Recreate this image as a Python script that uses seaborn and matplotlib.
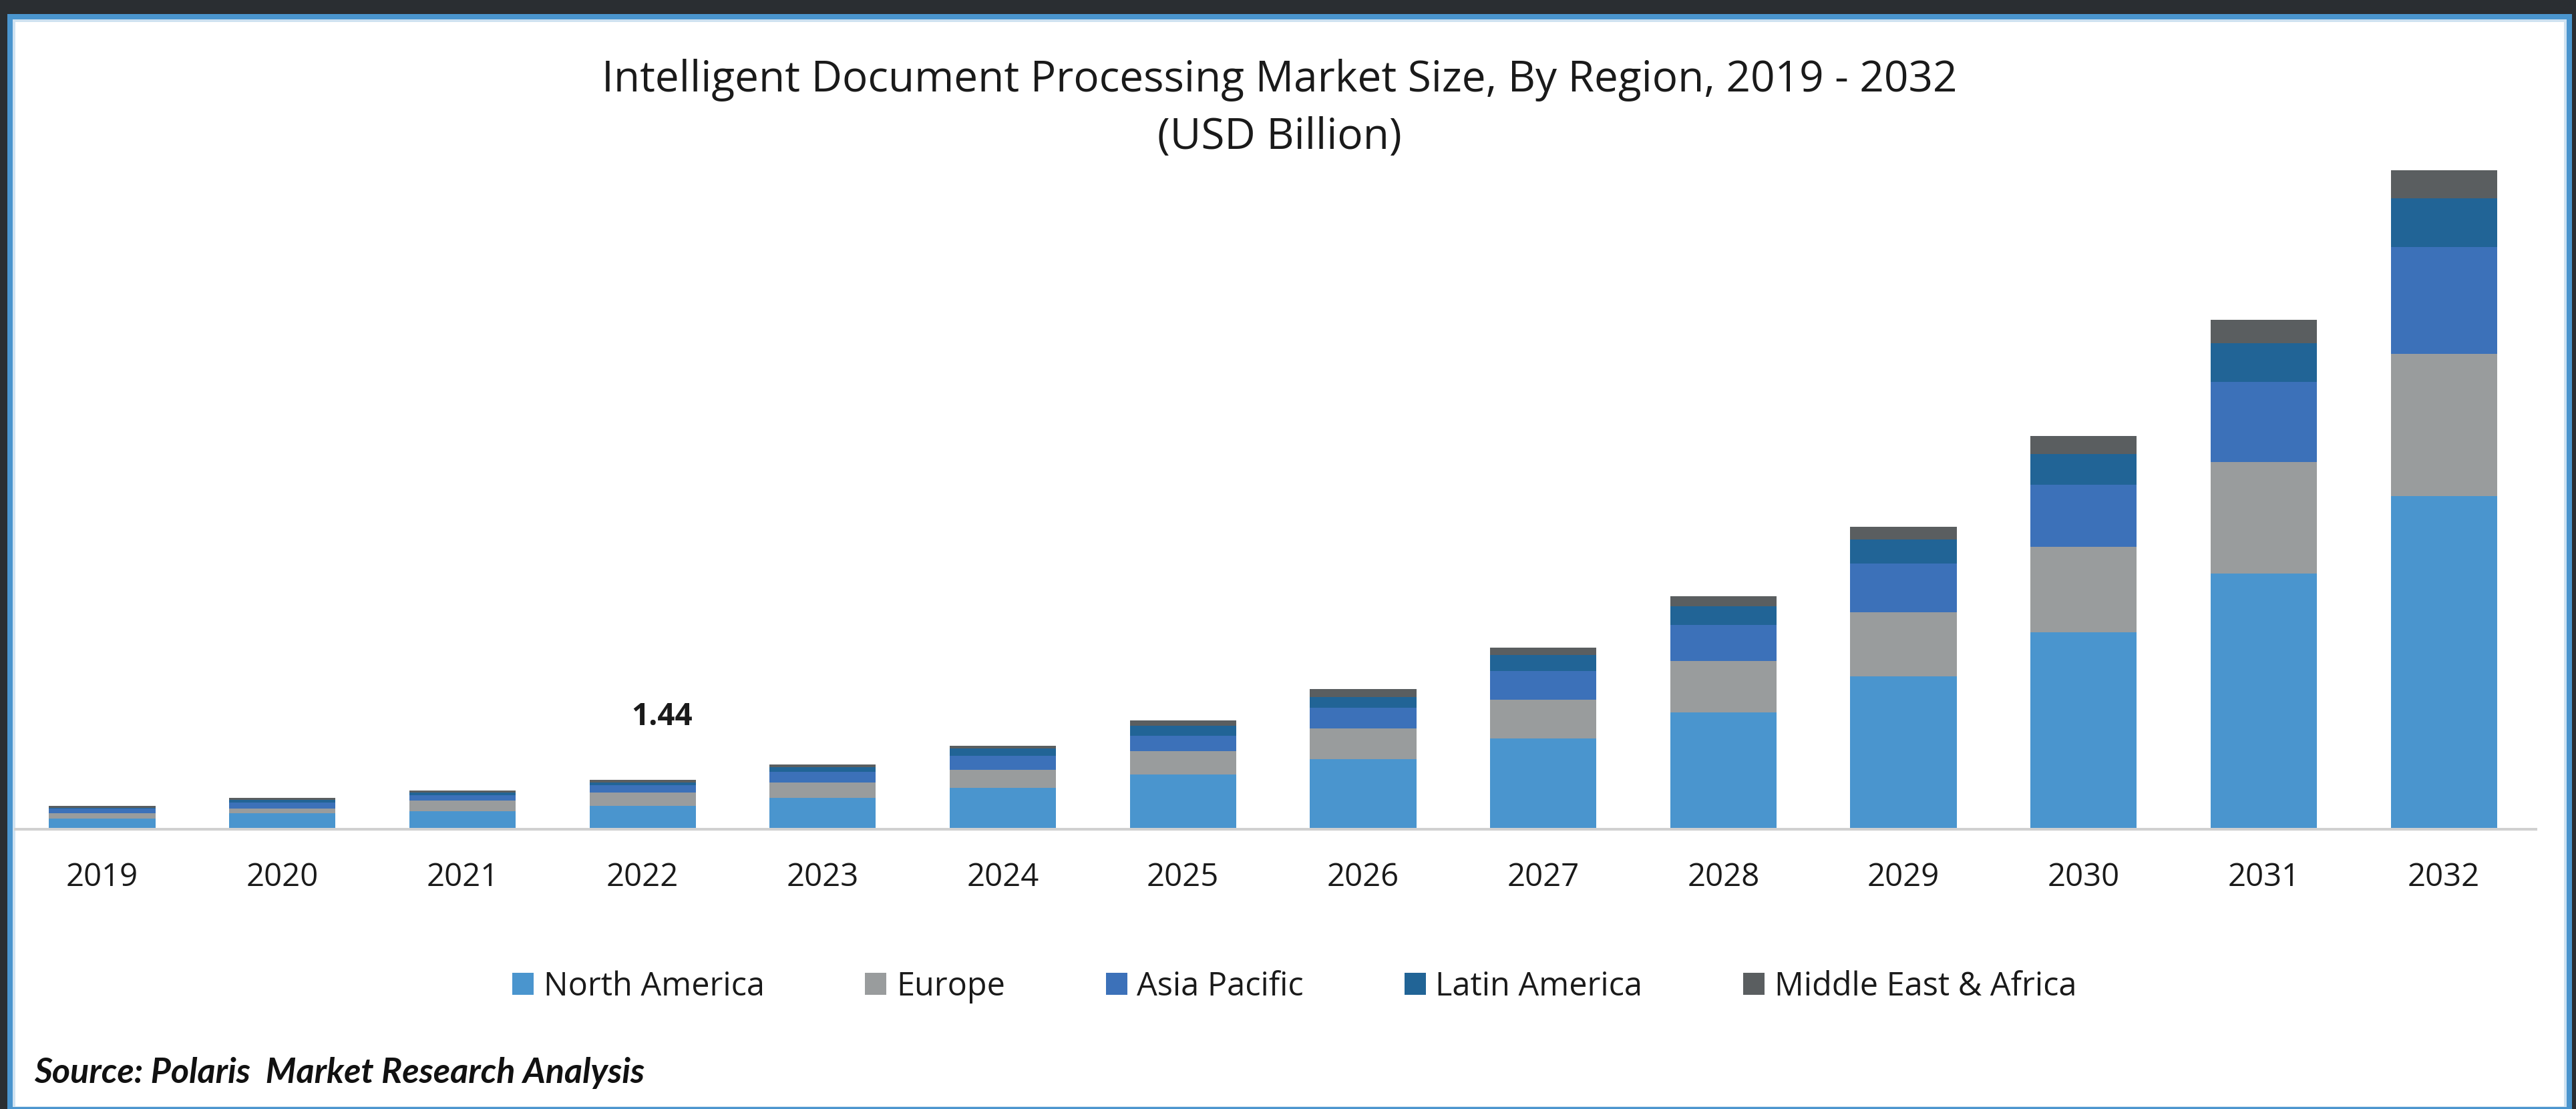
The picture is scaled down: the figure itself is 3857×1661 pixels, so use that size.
import numpy as np
import pandas as pd
import seaborn as sns
import matplotlib.pyplot as plt
from matplotlib.patches import Rectangle, Patch

# data (USD Billion)
years = ["2019", "2020", "2021", "2022", "2023", "2024", "2025",
         "2026", "2027", "2028", "2029", "2030", "2031", "2032"]
north_america = [0.31, 0.47, 0.53, 0.68, 0.91, 1.21, 1.60, 2.04, 2.65, 3.41, 4.45, 5.74, 7.46, 9.71]
europe = [0.16, 0.14, 0.31, 0.39, 0.45, 0.53, 0.68, 0.90, 1.13, 1.49, 1.88, 2.49, 3.25, 4.15]
asia_pacific = [0.14, 0.16, 0.16, 0.22, 0.31, 0.40, 0.45, 0.60, 0.84, 1.06, 1.42, 1.82, 2.33, 3.10]
latin_america = [0.02, 0.08, 0.07, 0.08, 0.14, 0.21, 0.29, 0.32, 0.45, 0.54, 0.69, 0.89, 1.13, 1.43]
middle_east_africa = [0.06, 0.07, 0.06, 0.07, 0.08, 0.08, 0.16, 0.23, 0.23, 0.30, 0.38, 0.52, 0.68, 0.82]

regions = ["North America", "Europe", "Asia Pacific", "Latin America", "Middle East & Africa"]
colors = ["#4a95ce", "#999c9d", "#3c71b9", "#216496", "#5a5e60"]
label_year = "2022"
label_text = "1.44"

df = pd.DataFrame({
    "year": years,
    "North America": north_america,
    "Europe": europe,
    "Asia Pacific": asia_pacific,
    "Latin America": latin_america,
    "Middle East & Africa": middle_east_africa,
})

sns.set_theme(style="white")
plt.rcParams["font.family"] = ["Open Sans", "DejaVu Sans"]

W, H = 3857, 1661
fig = plt.figure(figsize=(W / 100, H / 100), dpi=100, facecolor="#2a2e32")


def frame_rect(x0, y0, x1, y1, color):
    # pixel box (from top-left) -> figure fraction
    fig.add_artist(Rectangle((x0 / W, 1 - y1 / H), (x1 - x0) / W, (y1 - y0) / H,
                             transform=fig.transFigure, facecolor=color,
                             edgecolor="none", zorder=-5))


frame_rect(11, 21, 3851, 1661, "#4a95ce")
frame_rect(19, 29, 3843, 1658, "#cfe2f1")
frame_rect(23, 33, 3839, 1657, "#ffffff")

px_per_unit = 74 / 1.44
ax = fig.add_axes([23 / W, 1 - 1242 / H, (3797 - 23) / W, 20 * px_per_unit / H])
ax.patch.set_alpha(0)

bottom = np.zeros(len(years))
for region, color in zip(regions, colors):
    sns.barplot(data=df, x="year", y=region, color=color, saturation=1,
                width=0.59, bottom=bottom, linewidth=0, errorbar=None, ax=ax)
    bottom = bottom + df[region].to_numpy()

ax.set_xlim(-0.482, 13.511)
ax.set_ylim(0, 20)
ax.set_yticks([])
ax.set_xlabel("")
ax.set_ylabel("")
sns.despine(ax=ax, left=True)
ax.spines["bottom"].set_color("#d0d0d0")
ax.spines["bottom"].set_linewidth(2.9)
ax.tick_params(axis="x", length=0, pad=35, labelsize=34, labelcolor="#1a1a1a")

# data label on 2022
i22 = years.index(label_year)
ax.annotate(label_text, (i22, bottom[i22]), xytext=(29, 94), textcoords="offset pixels",
            ha="center", va="center", fontsize=33, fontweight="bold", color="#1a1a1a")

# title
fig.text(1916 / W, 1 - 137 / H,
         "Intelligent Document Processing Market Size, By Region, 2019 - 2032",
         ha="center", va="baseline", fontsize=46, color="#1a1a1a")
fig.text(1916 / W, 1 - 223 / H, "(USD Billion)",
         ha="center", va="baseline", fontsize=46, color="#1a1a1a")

handles = [Patch(facecolor=c, edgecolor="none") for c in colors]
fig.legend(handles, regions, loc="center", bbox_to_anchor=(1938 / W, 1 - 1478 / H),
           ncol=5, frameon=False, fontsize=35, handlelength=0.66, handleheight=0.66,
           handletextpad=0.3, columnspacing=3.1, labelcolor="#1a1a1a")

fig.text(51 / W, 1 - 1607 / H, "Source: Polaris  Market Research Analysis",
         ha="left", va="center", fontsize=37.5, fontweight="bold", style="italic",
         family=["Lato", "DejaVu Sans"], color="#111111")

fig.savefig("out.png", dpi=100, facecolor=fig.get_facecolor())
